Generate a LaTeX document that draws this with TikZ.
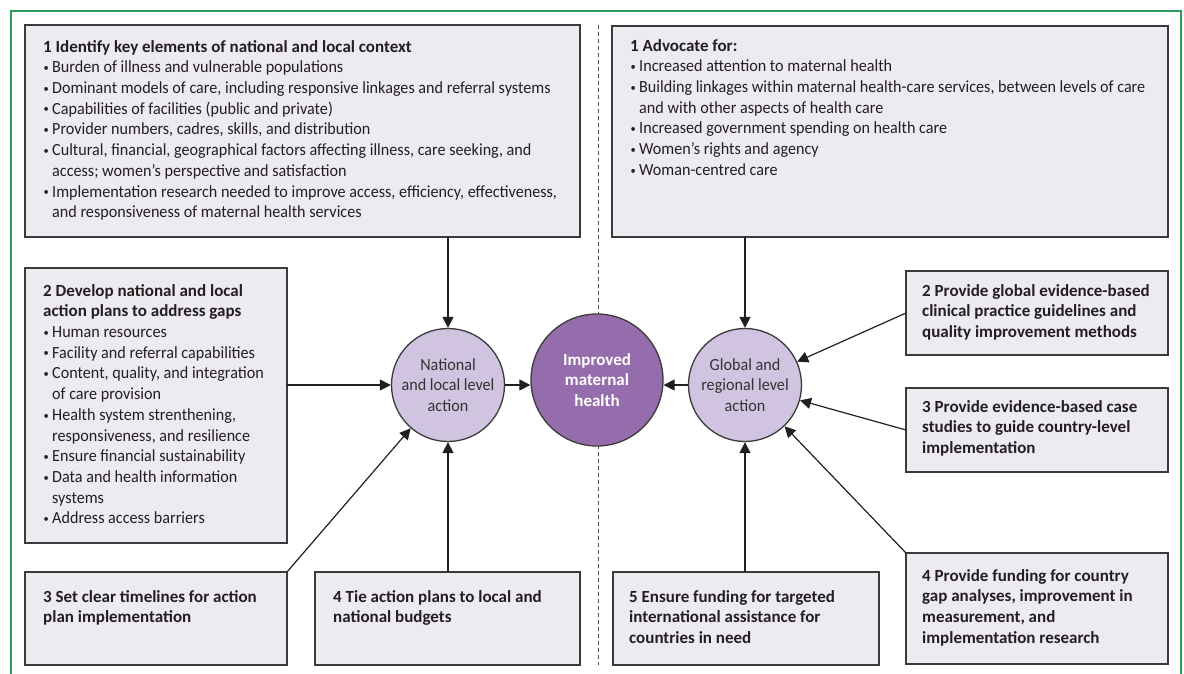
\documentclass[tikz,border=0pt]{standalone}
\usepackage{fontspec}
\setmainfont{Carlito}
\newfontfamily\narrowf{Carlito}[FakeStretch=0.95]
\usetikzlibrary{arrows.meta}
\definecolor{boxfill}{HTML}{EDEAF2}
\definecolor{boxline}{HTML}{3A3A3A}
\definecolor{circfill}{HTML}{D0C4E0}
\definecolor{impfill}{HTML}{966DAC}
\definecolor{framegreen}{HTML}{2A9A5A}
\definecolor{ink}{HTML}{231F20}
\newcommand{\bu}{\makebox[9pt][l]{\hspace*{0.5pt}\raisebox{1.3pt}{\fontsize{11}{11}\selectfont\textbullet}}}
\newcommand{\ind}{\hspace*{9pt}}
\newcommand{\ttl}[1]{{\rmfamily\bfseries #1}}
\tikzset{
  boxst/.style={draw=boxline, fill=boxfill, line width=1.4pt, rectangle, inner sep=0pt, outer sep=0pt, anchor=north west},
  txt/.style={anchor=north west, inner sep=0pt, align=left, text=ink, font=\narrowf\fontsize{17}{20.7}\selectfont},
  btxt/.style={anchor=north west, inner sep=0pt, align=left, text=ink, font=\rmfamily\bfseries\fontsize{17}{20.7}\selectfont},
  arr/.style={draw=ink, line width=1.2pt, -{Triangle[length=11pt,width=11pt]}},
  lvl/.style={circle, draw=boxline, line width=1.3pt, fill=circfill, minimum size=113pt, inner sep=0pt, align=center, text=black!80, font=\narrowf\fontsize{17}{20.7}\selectfont}
}
\begin{document}
\begin{tikzpicture}[x=1pt,y=-1pt]
\useasboundingbox (0,0) rectangle (1184,674);
\fill[white] (0,0) rectangle (1184,674);
\draw[framegreen, line width=1.3pt] (11,674) -- (11,11) -- (1181,11) -- (1181,674);
\draw[black!70, line width=1pt, dash pattern=on 4pt off 3pt] (598,25) -- (598,665);

% boxes
\node[boxst, minimum width=555pt, minimum height=212pt] (b1) at (25,25) {};
\node[boxst, minimum width=556pt, minimum height=211pt] (b1r) at (612,26) {};
\node[boxst, minimum width=262pt, minimum height=275pt] (b2l) at (25,268) {};
\node[boxst, minimum width=262pt, minimum height=93pt] (b3l) at (25,572) {};
\node[boxst, minimum width=265pt, minimum height=93pt] (b4l) at (315,572) {};
\node[boxst, minimum width=262pt, minimum height=84pt] (b2r) at (906,271) {};
\node[boxst, minimum width=262pt, minimum height=84pt] (b3r) at (906,388) {};
\node[boxst, minimum width=262pt, minimum height=111pt] (b4r) at (906,553) {};
\node[boxst, minimum width=266pt, minimum height=93pt] (b5r) at (613,572) {};

% texts
\node[txt] (t1) at ([xshift=18pt,yshift=-15pt]b1.north west) {\ttl{1 Identify key elements of national and local context}\\
\bu Burden of illness and vulnerable populations\\
\bu Dominant models of care, including responsive linkages and referral systems\\
\bu Capabilities of facilities (public and private)\\
\bu Provider numbers, cadres, skills, and distribution\\
\bu Cultural, financial, geographical factors affecting illness, care seeking, and\\
\ind access; women’s perspective and satisfaction\\
\bu Implementation research needed to improve access, efficiency, effectiveness,\\
\ind and responsiveness of maternal health services};

\node[txt] (t1r) at ([xshift=18pt,yshift=-13pt]b1r.north west) {\ttl{1 Advocate for:}\\
\bu Increased attention to maternal health\\
\bu Building linkages within maternal health-care services, between levels of care\\
\ind and with other aspects of health care\\
\bu Increased government spending on health care\\
\bu Women’s rights and agency\\
\bu Woman-centred care};

\node[txt] (t2l) at ([xshift=18pt,yshift=-16pt]b2l.north west) {\ttl{2 Develop national and local}\\
\ttl{action plans to address gaps}\\
\bu Human resources\\
\bu Facility and referral capabilities\\
\bu Content, quality, and integration\\
\ind of care provision\\
\bu Health system strenthening,\\
\ind responsiveness, and resilience\\
\bu Ensure financial sustainability\\
\bu Data and health information\\
\ind systems\\
\bu Address access barriers};

\node[btxt] (t3l) at ([xshift=18pt,yshift=-18pt]b3l.north west) {3 Set clear timelines for action\\plan implementation};
\node[btxt] (t4l) at ([xshift=18pt,yshift=-18pt]b4l.north west) {4 Tie action plans to local and\\national budgets};
\node[btxt] (t2r) at ([xshift=16pt,yshift=-13pt]b2r.north west) {2 Provide global evidence-based\\clinical practice guidelines and\\quality improvement methods};
\node[btxt] (t3r) at ([xshift=16pt,yshift=-12pt]b3r.north west) {3 Provide evidence-based case\\studies to guide country-level\\implementation};
\node[btxt] (t4r) at ([xshift=16pt,yshift=-16pt]b4r.north west) {4 Provide funding for country\\gap analyses, improvement in\\measurement, and\\implementation research};
\node[btxt] (t5r) at ([xshift=16pt,yshift=-18pt]b5r.north west) {5 Ensure funding for targeted\\international assistance for\\countries in need};

% circles
\node[lvl] (NL) at (448,385) {National\\and local level\\action};
\node[lvl] (GR) at (745,385) {Global and\\regional level\\action};
\node[circle, draw=boxline, line width=1.3pt, fill=impfill, minimum size=132pt, inner sep=0pt, align=center, text=white, font=\rmfamily\bfseries\fontsize{17}{20.5}\selectfont] (IMH) at (597,380) {Improved\\maternal\\health};

% arrows
\draw[arr] (b1.south -| NL) -- (NL.north);
\draw[arr] (b2l.east |- NL) -- (NL.west);
\draw[arr] (b3l.north east) -- (NL);
\draw[arr] (b4l.north -| NL) -- (NL.south);
\draw[arr] (NL.east) -- (NL.east -| IMH.west);
\draw[arr] (GR.west) -- (GR.west -| IMH.east);
\draw[arr] (b1r.south -| GR) -- (GR.north);
\draw[arr] (b2r.west) -- (GR);
\draw[arr] (b3r.west) -- (GR);
\draw[arr] (b4r.north west) -- (GR);
\draw[arr] (b5r.north -| GR) -- (GR.south);
\end{tikzpicture}
\end{document}
